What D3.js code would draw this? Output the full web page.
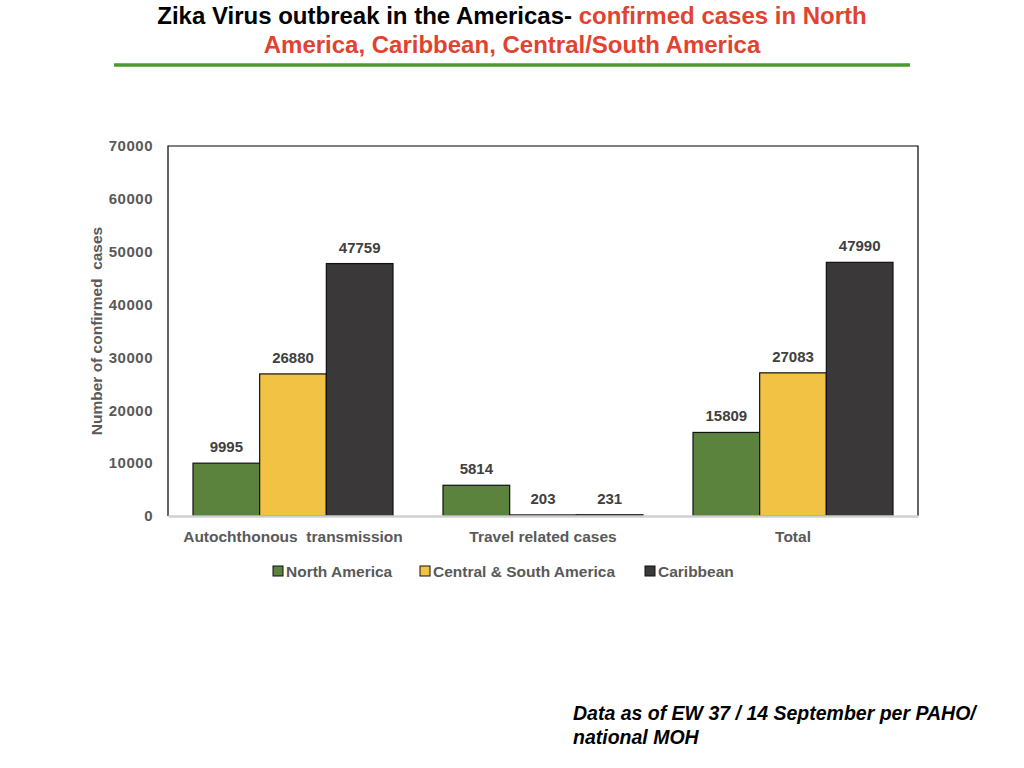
<!DOCTYPE html>
<html>
<head>
<meta charset="utf-8">
<script src="https://cdn.jsdelivr.net/npm/d3@7"></script>
<style>
  body { margin: 0; background: #fff; }
  svg { display: block; font-family: "Liberation Sans", Arial, sans-serif; }
</style>
</head>
<body>
<svg id="chart" width="1024" height="768"></svg>
<script>
// Data
const categories = ["Autochthonous  transmission", "Travel related cases", "Total"];
const seriesNames = ["North America", "Central & South America", "Caribbean"];
const northAmerica = [9995, 5814, 15809];
const centralSouth = [26880, 203, 27083];
const caribbean = [47759, 231, 47990];
const yTicks = [0, 10000, 20000, 30000, 40000, 50000, 60000, 70000];

const seriesValues = [northAmerica, centralSouth, caribbean];
const colors = ["#5b833e", "#f2c244", "#3a3839"];

const svg = d3.select("#chart");

// Title
const title = svg.append("text")
    .attr("x", 512)
    .attr("y", 24)
    .attr("text-anchor", "middle")
    .attr("font-size", "24px")
    .attr("font-weight", "bold");
title.append("tspan").attr("fill", "#000").text("Zika Virus outbreak in the Americas- ");
title.append("tspan").attr("fill", "#e0432f").text("confirmed cases in North");

svg.append("text")
    .attr("x", 512)
    .attr("y", 53)
    .attr("text-anchor", "middle")
    .attr("font-size", "24px")
    .attr("font-weight", "bold")
    .attr("fill", "#e0432f")
    .text("America, Caribbean, Central/South America");

svg.append("line")
    .attr("x1", 114).attr("x2", 910)
    .attr("y1", 65).attr("y2", 65)
    .attr("stroke", "#4a9a2e")
    .attr("stroke-width", 3.5);

// Chart area
const margin = { top: 146, left: 168 };
const width = 750;
const height = 370;

const g = svg.append("g")
    .attr("transform", `translate(${margin.left},${margin.top})`);

const x0 = d3.scaleBand().domain(categories).range([0, width]).paddingInner(0).paddingOuter(0);
const x1 = d3.scaleBand().domain(seriesNames).range([25, x0.bandwidth() - 25]);
const y = d3.scaleLinear().domain([0, 70000]).range([height, 0]);

// Plot frame
g.append("path")
    .attr("d", `M0,${height}V0H${width}V${height}`)
    .attr("fill", "none")
    .attr("stroke", "#000")
    .attr("stroke-width", 1.2);

// Y axis
const yAxis = g.append("g")
    .call(d3.axisLeft(y).tickValues(yTicks).tickSize(0).tickPadding(15).tickFormat(d3.format("d")));
yAxis.select(".domain").remove();
yAxis.selectAll("text")
    .attr("font-family", "'Liberation Sans', Arial, sans-serif")
    .attr("font-size", "15px")
    .attr("font-weight", "bold")
    .attr("letter-spacing", "0.5px")
    .attr("fill", "#595959");

// Bars
const groups = g.selectAll(".group")
    .data(categories)
    .enter()
    .append("g")
    .attr("class", "group")
    .attr("transform", d => `translate(${x0(d)},0)`);

groups.selectAll("rect")
    .data((d, i) => seriesNames.map((s, j) => ({ s: s, j: j, v: seriesValues[j][i] })))
    .enter()
    .append("rect")
    .attr("x", d => x1(d.s))
    .attr("y", d => y(d.v))
    .attr("width", x1.bandwidth())
    .attr("height", d => height - y(d.v))
    .attr("fill", d => colors[d.j])
    .attr("stroke", "#111")
    .attr("stroke-width", 1.2);

groups.selectAll(".val")
    .data((d, i) => seriesNames.map((s, j) => ({ s: s, j: j, v: seriesValues[j][i] })))
    .enter()
    .append("text")
    .attr("class", "val")
    .attr("x", d => x1(d.s) + x1.bandwidth() / 2)
    .attr("y", d => y(d.v) - 11)
    .attr("text-anchor", "middle")
    .attr("font-size", "15px")
    .attr("font-weight", "bold")
    .attr("fill", "#404040")
    .text(d => d.v);

// X axis (light bottom line)
const xAxis = g.append("g")
    .attr("transform", `translate(0,${height})`)
    .call(d3.axisBottom(x0).tickSize(0).tickPadding(15));
xAxis.select(".domain")
    .attr("stroke", "#d0d0d0")
    .attr("stroke-width", 2.5);
xAxis.selectAll("text")
    .attr("font-family", "'Liberation Sans', Arial, sans-serif")
    .attr("font-size", "15.5px")
    .attr("font-weight", "bold")
    .attr("fill", "#595959")
    .style("white-space", "pre");

// Y axis title
svg.append("text")
    .attr("transform", "translate(102,331) rotate(-90)")
    .attr("text-anchor", "middle")
    .attr("font-size", "15.5px")
    .attr("font-weight", "bold")
    .attr("fill", "#595959")
    .style("white-space", "pre")
    .text("Number of confirmed  cases");

// Legend
const legendX = [273, 420, 645];
const legend = svg.selectAll(".legend")
    .data(seriesNames)
    .enter()
    .append("g")
    .attr("class", "legend")
    .attr("transform", (d, i) => `translate(${legendX[i]},571)`);
legend.append("rect")
    .attr("x", 0).attr("y", -5)
    .attr("width", 10).attr("height", 10)
    .attr("fill", (d, i) => colors[i])
    .attr("stroke", "#111")
    .attr("stroke-width", 1);
legend.append("text")
    .attr("x", 13)
    .attr("y", 5.5)
    .attr("font-size", "15.5px")
    .attr("font-weight", "bold")
    .attr("fill", "#595959")
    .text(d => d);

// Footnote
const foot = svg.append("text")
    .attr("font-size", "19.5px")
    .attr("font-weight", "bold")
    .attr("font-style", "italic")
    .attr("fill", "#000");
foot.append("tspan").attr("x", 573).attr("y", 720).text("Data as of EW 37 / 14 September per PAHO/");
foot.append("tspan").attr("x", 573).attr("y", 744).text("national MOH");
</script>
</body>
</html>
